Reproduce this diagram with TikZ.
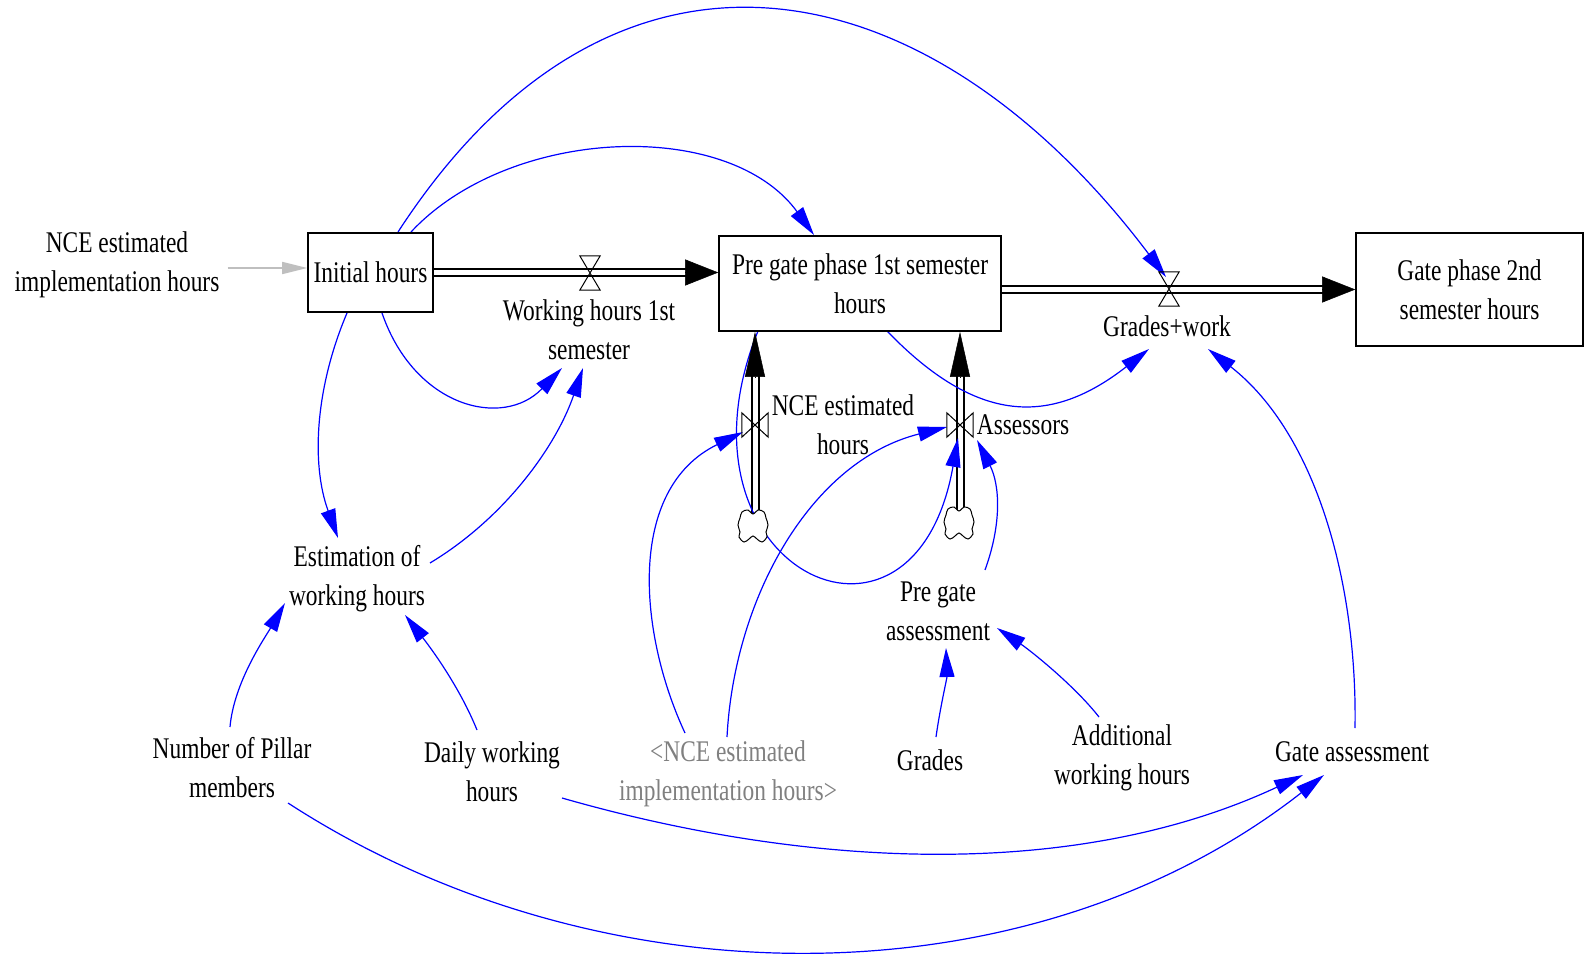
\documentclass[tikz,border=0pt]{standalone}
\usepackage{fontspec}
\setmainfont{Liberation Serif}[FakeStretch=0.78]
\usetikzlibrary{arrows.meta,shapes.symbols}
\pgfdeclarelayer{canvas}
\pgfdeclarelayer{back}
\pgfsetlayers{canvas,back,main}

\begin{document}
\begin{tikzpicture}[x=1pt,y=1pt,
  every node/.style={font=\fontsize{30pt}{39pt}\selectfont, align=center, inner sep=2pt},
  stock/.style={draw=black, line width=1.6pt, fill=white, inner sep=0pt},
  hvalve/.style={minimum width=20pt, minimum height=34pt, inner sep=0pt},
  vvalve/.style={minimum width=26pt, minimum height=24pt, inner sep=0pt},
  valveline/.style={draw=black, line width=1pt, line join=miter},
  sink/.style={minimum width=31pt, minimum height=32pt, inner sep=0pt},
  sinkline/.style={draw=black, fill=white, line width=1pt},
  pipe/.style={draw=black, line width=2pt, double=white, double distance=5pt},
  tipH/.style={draw=black, line width=0.5pt, -{Triangle[length=33pt,width=26pt]}},
  tipV/.style={draw=black, line width=0.5pt, -{Triangle[length=45pt,width=20pt]}},
  infl/.style={draw=blue, line width=1.2pt, -{Triangle[length=29pt,width=15pt]}},
  inputarrow/.style={draw=black!25, line width=1.5pt, -{Triangle[length=25pt,width=12pt]}},
  shadowvar/.style={text=black!50}
]
% canvas
\begin{pgfonlayer}{canvas}
  \fill[white] (0,0) rectangle (1585,-960);
\end{pgfonlayer}
\useasboundingbox (0,0) rectangle (1585,-960);

% stocks
\node[stock, minimum width=125pt, minimum height=79pt] (ini) at (370.5,-272.5) {Initial hours};
\node[stock, minimum width=282pt, minimum height=95pt] (pre) at (860,-283.5) {Pre gate phase 1st semester\\hours};
\node[stock, minimum width=227pt, minimum height=113pt] (gate) at (1469.5,-289.5) {Gate phase 2nd\\semester hours};

% valves and sources
\node[hvalve] (v1) at (590,-273) {};
\node[hvalve] (v2) at (1169,-289) {};
\node[vvalve] (v3) at (755,-425) {};
\node[vvalve] (v4) at (960,-425) {};
\node[sink] (c3) at (753,-526) {};
\node[sink] (c4) at (959,-523) {};

% flow labels
\node (lab1) at (589,-329.5) {Working hours 1st\\semester};
\node (lab2) at (1167,-326) {Grades+work};
\node (lab3) at (843,-425) {NCE estimated\\hours};
\node (lab4) at (1023,-425) {Assessors};

% auxiliaries
\node (nce) at (117,-264.5) {NCE estimated\\implementation hours};
\node (estim) at (357,-579) {Estimation of\\working hours};
\node (pillar) at (232,-767.5) {Number of Pillar\\members};
\node (daily) at (492,-771.5) {Daily working\\hours};
\node[shadowvar] (shadow) at (728,-773.5) {<NCE estimated\\implementation hours>};
\node (grades) at (930,-760) {Grades};
\node (pga) at (938,-611) {Pre gate\\assessment};
\node (addl) at (1122,-757.5) {Additional\\working hours};
\node (gatea) at (1352,-752) {Gate assessment};

% pipe end points
\coordinate (p1end) at (pre.west |- ini.east);
\coordinate (p2start) at (pre.east |- gate.west);
\coordinate (p3end) at (v3 |- pre.south);
\coordinate (p4end) at (v4 |- pre.south);
\coordinate (p3start) at ([yshift=-4pt]v3 |- c3.north);
\coordinate (p4start) at ([yshift=-4pt]v4 |- c4.north);
\coordinate (g1) at ([yshift=4.5pt]ini.west);

\begin{pgfonlayer}{back}
  % material flows
  \draw[pipe, shorten >=20pt] (ini.east) -- (p1end);
  \draw[pipe, shorten >=20pt] (p2start) -- (gate.west);
  \draw[pipe, shorten >=30pt] (p3start) -- (p3end);
  \draw[pipe, shorten >=30pt] (p4start) -- (p4end);

  % causal links
  \draw[infl] ([shift={(27.5,40.5)}]ini.center) .. controls +(57:400) and +(127:392) .. ([shift={(-3,12)}]v2.center);
  \draw[infl] ([shift={(40.5,40.5)}]ini.center) .. controls +(47:145) and +(126:145) .. ([shift={(-46,48.5)}]pre.center);
  \draw[infl] ([shift={(11.5,-40.5)}]ini.center) .. controls +(-71:100) and +(226:85) .. ([shift={(-27,-38.5)}]lab1.center);
  \draw[infl] ([shift={(-23.5,-40.5)}]ini.center) .. controls +(-113:80) and +(110:80) .. ([shift={(-19,41)}]estim.center);
  \draw[infl] ([shift={(73,16)}]estim.center) .. controls +(31:85) and +(-109:85) .. ([shift={(-6,-38.5)}]lab1.center);
  \draw[infl] ([shift={(-2,40.5)}]pillar.center) .. controls +(85:45) and +(-120:40) .. ([shift={(-72,-24)}]estim.center);
  \draw[infl] ([shift={(-15,41.5)}]daily.center) .. controls +(112:45) and +(-52:45) .. ([shift={(48,-36)}]estim.center);
  \draw[infl] ([shift={(-43,40.5)}]shadow.center) .. controls +(115:110) and +(-154:130) .. ([shift={(-12,-7)}]v3.center);
  \draw[infl] ([shift={(-1,36.5)}]shadow.center) .. controls +(87:140) and +(-166:140) .. ([shift={(-13,-2)}]v4.center);
  \draw[infl] ([shift={(-102,-47.5)}]pre.center) .. controls +(-112:255) and +(-100:255) .. ([shift={(-2,-13)}]v4.center);
  \draw[infl] ([shift={(27,-47.5)}]pre.center) .. controls +(-46:130) and +(-142:125) .. ([shift={(-18,-23)}]lab2.center);
  \draw[infl] ([shift={(47,41)}]pga.center) .. controls +(70:50) and +(-63:50) .. ([shift={(17,-15)}]v4.center);
  \draw[infl] ([shift={(6,23)}]grades.center) .. controls +(82:30) and +(-88:30) .. ([shift={(8,-37)}]pga.center);
  \draw[infl] ([shift={(-23,40.5)}]addl.center) .. controls +(128:40) and +(-34:40) .. ([shift={(59,-17)}]pga.center);
  \draw[infl] ([shift={(3,24)}]gatea.center) .. controls +(89:140) and +(-38:140) .. ([shift={(41,-23)}]lab2.center);
  \draw[infl] ([shift={(70,-26.5)}]daily.center) .. controls +(-16:250) and +(-155:255) .. ([shift={(-49,-23)}]gatea.center);
  \draw[infl] ([shift={(56,-35.5)}]pillar.center) .. controls +(-33:370) and +(-142:375) .. ([shift={(-28,-23)}]gatea.center);
\end{pgfonlayer}

% flow arrow heads
\draw[tipH] ([xshift=-33pt]p1end) -- (p1end);
\draw[tipH] ([xshift=-33pt]gate.west) -- (gate.west);
\draw[tipV] ([yshift=-45pt]p3end) -- (p3end);
\draw[tipV] ([yshift=-45pt]p4end) -- (p4end);

% valve symbols
\draw[valveline] (v1.north west) -- (v1.north east) -- (v1.south west) -- (v1.south east) -- cycle;
\draw[valveline] (v2.north west) -- (v2.north east) -- (v2.south west) -- (v2.south east) -- cycle;
\draw[valveline] (v3.north west) -- (v3.south west) -- (v3.north east) -- (v3.south east) -- cycle;
\draw[valveline] (v4.north west) -- (v4.south west) -- (v4.north east) -- (v4.south east) -- cycle;

% cloud sources
\foreach \c in {c3,c4}
  \draw[sinkline, shift={(\c.center)}] plot[smooth cycle, tension=0.6] coordinates {
    (0,12) (-5,16) (-11,14) (-13,8) (-15,1) (-13,-6) (-14,-11) (-9,-16) (-4,-13)
    (0,-10) (4,-13) (9,-16) (14,-11) (13,-6) (15,1) (13,8) (11,14) (5,16)};

% external input
\draw[inputarrow, shorten <=6pt] (nce.east |- g1) -- (g1);
\end{tikzpicture}
\end{document}
